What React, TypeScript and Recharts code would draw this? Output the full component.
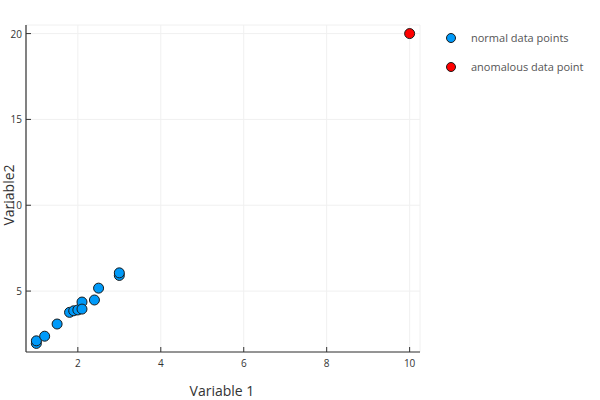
import { ScatterChart, Scatter, XAxis, YAxis, CartesianGrid, Legend, Label } from 'recharts';

const normalX = [1.0, 1.0, 1.2, 1.5, 1.8, 1.9, 2.0, 2.1, 2.1, 2.4, 2.5, 3.0, 3.0];
const normalY = [1.95, 2.1, 2.37, 3.08, 3.76, 3.85, 3.9, 4.36, 3.95, 4.48, 5.17, 5.91, 6.06];
const anomalyX = [10];
const anomalyY = [20];
const xTicks = [2, 4, 6, 8, 10];
const yTicks = [5, 10, 15, 20];

const normal = normalX.map((x, i) => ({ x, y: normalY[i] }));
const anomaly = anomalyX.map((x, i) => ({ x, y: anomalyY[i] }));

const BLUE = '#009af9';
const RED = '#ff0000';
const FONT = '"Open Sans", "DejaVu Sans", sans-serif';

const Dot = (color: string) => (props: any) => (
  <circle cx={props.cx} cy={props.cy} r={5} fill={color} stroke="#1a1a1a" strokeWidth={1} />
);

const XTick = (props: any) => {
  const { x, y, payload } = props;
  return (
    <g>
      <line x1={x} x2={x} y1={y} y2={y - 5} stroke="#333" strokeWidth={1} />
      <text x={x} y={y + 15} textAnchor="middle" fontSize={10} fill="#333" fontFamily={FONT}>
        {payload.value}
      </text>
    </g>
  );
};

const YTick = (props: any) => {
  const { x, y, payload } = props;
  return (
    <g>
      <line x1={x} x2={x + 5} y1={y} y2={y} stroke="#333" strokeWidth={1} />
      <text x={x - 4} y={y + 4} textAnchor="end" fontSize={10} fill="#333" fontFamily={FONT}>
        {payload.value}
      </text>
    </g>
  );
};

const LegendBox = () => (
  <div style={{ fontFamily: FONT, fontSize: 11, color: '#555', width: 155 }}>
    {[
      { name: 'normal data points', color: BLUE },
      { name: 'anomalous data point', color: RED },
    ].map((item) => (
      <div key={item.name} style={{ display: 'flex', alignItems: 'center', height: 29 }}>
        <svg width={12} height={12} style={{ marginRight: 14 }}>
          <circle cx={6} cy={6} r={4.5} fill={item.color} stroke="#1a1a1a" strokeWidth={1} />
        </svg>
        <span>{item.name}</span>
      </div>
    ))}
  </div>
);

export default function App() {
  return (
    <div style={{ position: 'absolute', left: 0, top: 0, width: 600, height: 400, background: '#fff' }}>
      <ScatterChart width={600} height={400} margin={{ top: 25, right: 25, bottom: 0, left: 0 }}>
        <CartesianGrid stroke="#f0f0f0" strokeWidth={1} />
        <XAxis
          type="number"
          dataKey="x"
          domain={[0.75, 10.25]}
          ticks={xTicks}
          height={48}
          tickSize={0}
          tickMargin={0}
          tick={<XTick />}
          axisLine={{ stroke: '#333', strokeWidth: 1.2 }}
          allowDataOverflow
        >
          <Label
            content={() => (
              <text x={222} y={396} textAnchor="middle" fontSize={14} fill="#333" fontFamily={FONT}>
                Variable 1
              </text>
            )}
          />
        </XAxis>
        <YAxis
          type="number"
          dataKey="y"
          domain={[1.45, 20.5]}
          ticks={yTicks}
          width={26}
          tickSize={0}
          tickMargin={0}
          tick={<YTick />}
          axisLine={{ stroke: '#333', strokeWidth: 1.2 }}
          allowDataOverflow
        >
          <Label
            content={() => (
              <text
                x={14}
                y={195}
                textAnchor="middle"
                fontSize={14}
                fill="#333"
                fontFamily={FONT}
                transform="rotate(-90 14 195)"
              >
                Variable2
              </text>
            )}
          />
        </YAxis>
        <Legend
          content={<LegendBox />}
          layout="vertical"
          verticalAlign="top"
          align="right"
          width={155}
          wrapperStyle={{ position: 'absolute', left: 445, top: 23, width: 155 }}
        />
        <Scatter name="normal data points" data={normal} shape={Dot(BLUE)} isAnimationActive={false} />
        <Scatter name="anomalous data point" data={anomaly} shape={Dot(RED)} isAnimationActive={false} />
      </ScatterChart>
    </div>
  );
}
